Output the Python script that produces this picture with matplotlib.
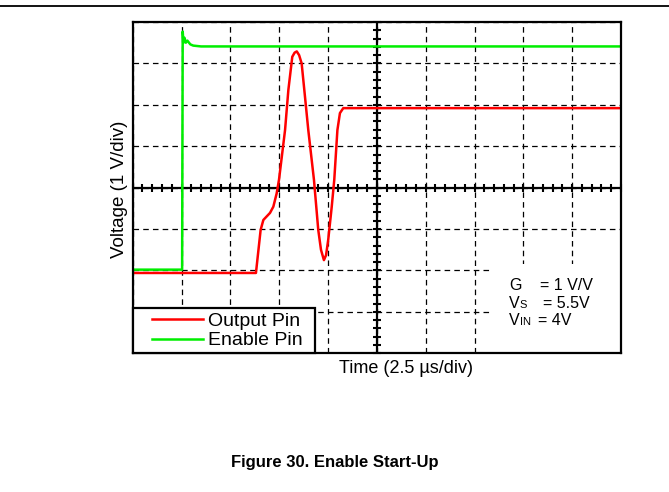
import numpy as np
import matplotlib
matplotlib.use("Agg")
import matplotlib.pyplot as plt
from matplotlib.lines import Line2D
from matplotlib.patches import Rectangle
from matplotlib.legend_handler import HandlerLine2D

plt.rcParams['font.family'] = ['Liberation Sans', 'DejaVu Sans']
plt.rcParams['lines.scale_dashes'] = False

# ---------------- data (time in µs, voltage in V) ----------------
output_t = [0.0, 6.31, 6.55, 6.69, 7.03, 7.20, 7.37, 7.49, 7.80, 7.97, 8.17,
            8.29, 8.40, 8.52, 8.65, 8.82, 8.99, 9.28, 9.50, 9.64, 9.79,
            9.90, 10.01, 10.19, 10.32, 10.48, 10.61, 10.78, 25.0]
output_v = [-0.06, -0.06, 0.98, 1.22, 1.39, 1.54, 1.86, 2.19, 3.39, 4.36, 5.16,
            5.26, 5.29, 5.20, 5.00, 4.20, 3.39, 2.19, 0.98, 0.50, 0.25,
            0.37, 0.74, 1.54, 2.19, 3.39, 3.80, 3.92, 3.92]

enable_t = [0.0, 2.53, 2.56, 2.60, 2.65, 2.72, 2.80, 2.95, 3.10, 3.50, 25.0]
enable_v = [0.02, 0.02, 5.77, 5.50, 5.62, 5.50, 5.55, 5.46, 5.43, 5.41, 5.41]

series_labels = ["Output Pin", "Enable Pin"]
series_colors = ["#ff0000", "#00ee00"]

x_div = 2.5      # µs/div
y_div = 1.0      # V/div
x_range = (0.0, 25.0)
y_range = (-2.0, 6.0)

# ---------------- figure ----------------
W, H = 669, 492
fig = plt.figure(figsize=(W / 100, H / 100), dpi=100)
ax_l, ax_r, ax_t, ax_b = 132.7, 621.0, 22.0, 353.3
ax = fig.add_axes([ax_l / W, 1 - ax_b / H, (ax_r - ax_l) / W, (ax_b - ax_t) / H])
ax.set_xlim(*x_range)
ax.set_ylim(*y_range)

# dashed graticule
ax.set_xticks(np.arange(x_range[0], x_range[1] + 1e-9, x_div))
ax.set_yticks(np.arange(y_range[0], y_range[1] + 1e-9, y_div))
ax.tick_params(length=0, labelbottom=False, labelleft=False)
ax.grid(True, color='black', linewidth=0.9, linestyle=(0, (4, 3)), zorder=0.5)
ax.set_axisbelow(True)

# centre cross lines with minor ticks
xc = (x_range[0] + x_range[1]) / 2
yc = (y_range[0] + y_range[1]) / 2
ax.axvline(xc, color='black', lw=1.6, zorder=1)
ax.axhline(yc, color='black', lw=1.6, zorder=1)
xt = np.arange(x_range[0], x_range[1] + 1e-9, x_div / 5)
yt = np.arange(y_range[0], y_range[1] + 1e-9, y_div / 5)
ax.plot(xt, np.full_like(xt, yc), linestyle='none', marker='|', markersize=5.5,
        mew=1.5, color='black', zorder=1, clip_on=False)
ax.plot(np.full_like(yt, xc), yt, linestyle='none', marker='_', markersize=5.5,
        mew=1.5, color='black', zorder=1, clip_on=False)

for s in ax.spines.values():
    s.set_linewidth(1.6)
    s.set_zorder(5)

# white panel behind the test conditions
ax.add_patch(Rectangle(((490 - ax_l) / (ax_r - ax_l), 0), (ax_r - 490) / (ax_r - ax_l),
                       (ax_b - 264) / (ax_b - ax_t), transform=ax.transAxes,
                       facecolor='white', edgecolor='none', zorder=1.5))

# traces
l_out, = ax.plot(output_t, output_v, color=series_colors[0], lw=1.8, zorder=3,
                 label=series_labels[0])
l_en, = ax.plot(enable_t, enable_v, color=series_colors[1], lw=1.8, zorder=3,
                label=series_labels[1])

fs_leg = 14.0
fs_px = fs_leg * 100 / 72
leg = ax.legend(handles=[l_out, l_en], loc='lower left',
                bbox_to_anchor=(0, 0, (315 - ax_l) / (ax_r - ax_l), 0.0), mode='expand',
                borderaxespad=0, fontsize=fs_leg, frameon=True, fancybox=False,
                framealpha=1, edgecolor='black', borderpad=0.2,
                handlelength=(203.3 - 136.5) / fs_px, handletextpad=0.22,
                labelspacing=0.1,
                handler_map={Line2D: HandlerLine2D(xpad=(151.7 - 136.5) / fs_px)})
leg.get_frame().set_linewidth(1.6)
leg.set_zorder(6)

# axis labels
fig.text(120 / W, 1 - 189 / H, "Voltage (1 V/div)", rotation=90, ha='center',
         va='center', fontsize=13.5)
fig.text(338.7 / W, 1 - 373.3 / H, "Time (2.5 µs/div)", ha='left',
         va='baseline', fontsize=13)

# condition annotations
fs_a, fs_s = 11.5, 8
x0 = 509.3
fig.text(x0 / W, 1 - 290 / H, "G", fontsize=fs_a, va='baseline')
fig.text(540 / W, 1 - 290 / H, "= 1 V/V", fontsize=fs_a, va='baseline')
fig.text(x0 / W, 1 - 307.7 / H, "V", fontsize=fs_a, va='baseline')
fig.text((x0 + 10.6) / W, 1 - 307.7 / H, "S", fontsize=fs_s, va='baseline')
fig.text(543 / W, 1 - 307.7 / H, "= 5.5V", fontsize=fs_a, va='baseline')
fig.text(x0 / W, 1 - 325 / H, "V", fontsize=fs_a, va='baseline')
fig.text((x0 + 10.6) / W, 1 - 325 / H, "IN", fontsize=fs_s, va='baseline')
fig.text(538.5 / W, 1 - 325 / H, "= 4V", fontsize=fs_a, va='baseline')

# top rule and caption
fig.add_artist(Line2D([0, 1], [1 - 6 / H, 1 - 6 / H], color='black', lw=1.3))
fig.text(0.5, 1 - 462 / H, "Figure 30. Enable Start-Up", ha='center', va='center',
         fontsize=12, fontweight='bold')

fig.savefig("out.png", dpi=100)
